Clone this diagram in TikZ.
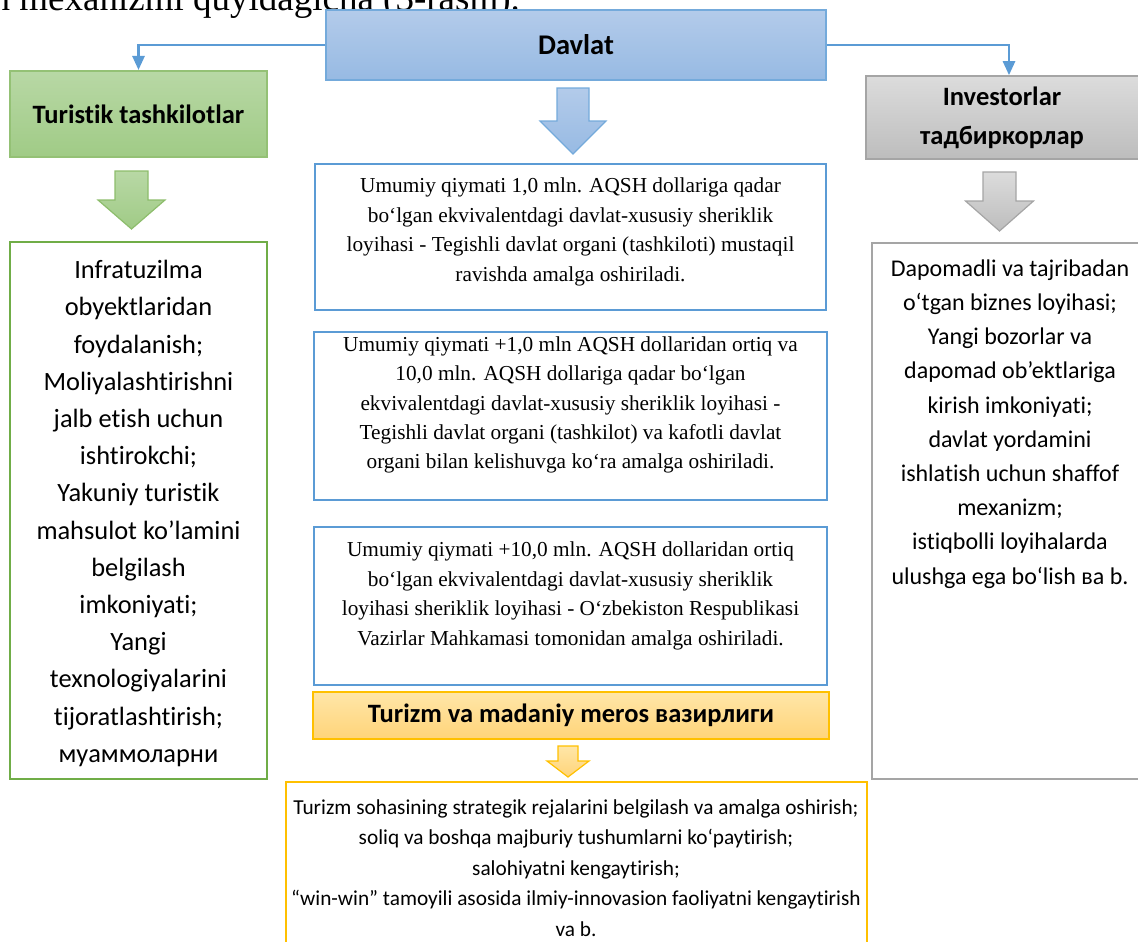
\documentclass[tikz,border=0pt]{standalone}
\usepackage{fontspec}
\setmainfont{Liberation Serif}
\newfontfamily\calibri{Carlito}[Renderer=OpenType,
  Ligatures={NoCommon,NoRequired,NoContextual,NoRare}, RawFeature={-ccmp}]
\usetikzlibrary{positioning,arrows.meta,calc}

\definecolor{blueline}{HTML}{5B9BD5}
\definecolor{bluetop}{HTML}{B3CBEA}
\definecolor{bluebot}{HTML}{97BAE3}
\definecolor{greenline}{HTML}{70AD47}
\definecolor{greentop}{HTML}{B8D8A5}
\definecolor{greenbot}{HTML}{A0CB86}
\definecolor{grayline}{HTML}{A5A5A5}
\definecolor{graytop}{HTML}{DCDCDC}
\definecolor{graybot}{HTML}{BDBDBD}
\definecolor{goldline}{HTML}{FFC000}
\definecolor{goldtop}{HTML}{FFE6A8}
\definecolor{goldbot}{HTML}{FFD479}

\tikzset{
  titlebox/.style={draw, line width=1.6pt, inner sep=0pt, align=center,
    font=\calibri\bfseries\fontsize{26.5}{39}\selectfont},
  framebox/.style={draw, line width=2.6pt, inner sep=0pt},
  listtext/.style={inner sep=0pt, align=center},
  conn/.style={draw=blueline, line width=2.6pt, -{Triangle[width=12pt,length=14pt]}},
}

% block arrow: style, x, top, head start, tip, shaft half, head half
\newcommand{\blockdown}[7]{%
  \path[#1] ({#2-#6},#3) -- ({#2+#6},#3) -- ({#2+#6},#4) -- ({#2+#7},#4)
    -- (#2,#5) -- ({#2-#7},#4) -- ({#2-#6},#4) -- cycle;}

\begin{document}
\begin{tikzpicture}[x=1pt,y=-1pt]
\useasboundingbox (0,0) rectangle (1138,942);
\clip (0,0) rectangle (1138,942);

% cut line of the page text above the figure
\node[inner sep=0pt, anchor=base east, font=\fontsize{37}{40}\selectfont] (pagetext) at (520,11) {ishlash mexanizmi quyidagicha (3-rasm).};

% top row
\node[titlebox, draw=blueline!85, top color=bluetop, bottom color=bluebot,
  font=\calibri\bfseries\fontsize{28.5}{39}\selectfont,
  minimum width=500, minimum height=70] (davlat) at (576,45) {Davlat};
\node[titlebox, draw=greenline!75, top color=greentop, bottom color=greenbot,
  line width=2pt, minimum width=257, minimum height=86] (turistik) at (138.5,114) {Turistik tashkilotlar};
\node[titlebox, draw=grayline, top color=graytop, bottom color=graybot,
  minimum width=286, minimum height=83] (investor) at (1009,117.5) {\hspace*{-14pt}Investorlar\\\hspace*{-14pt}тадбиркорлар};

\draw[conn] (davlat.west) -| (turistik.north);
\draw[conn] (davlat.east) -| (investor.north);

% block arrows
\blockdown{draw=greenline!80, line width=1.2pt, top color=greentop, bottom color=greenbot}{131.5}{171}{200}{229}{16.5}{33.5}
\blockdown{draw=blueline!85, line width=1.2pt, top color=bluetop, bottom color=bluebot}{573}{88}{121}{154}{16}{33}
\blockdown{draw=grayline, line width=1.2pt, top color=graytop, bottom color=graybot}{999.5}{172}{201}{231}{16.5}{34}
\blockdown{draw=goldline, line width=1.2pt, top color=goldtop, bottom color=goldbot}{568}{746}{761}{777}{10}{21}

% left column
\node[framebox, draw=greenline, minimum width=257, minimum height=537] (leftlist) at (138.5,510.5) {};
\node[listtext, font=\calibri\fontsize{26.4}{37.2}\selectfont] (leftlisttxt) at (138.5,513.5)
  {Infratuzilma\\obyektlaridan\\foydalanish;\\Moliyalashtirishni\\jalb etish uchun\\ishtirokchi;\\Yakuniy turistik\\mahsulot ko’lamini\\belgilash\\imkoniyati;\\Yangi\\texnologiyalarini\\tijoratlashtirish;\\муаммоларни};

% right column
\node[framebox, draw=grayline, minimum width=276, minimum height=536] (rightlist) at (1010,511) {};
\node[listtext, font=\calibri\fontsize{24}{34.2}\selectfont] (rightlisttxt) at (1010,424)
  {Dapomadli va tajribadan\\o‘tgan biznes loyihasi;\\Yangi bozorlar va\\dapomad ob’ektlariga\\kirish imkoniyati;\\davlat yordamini\\ishlatish uchun shaffof\\mexanizm;\\istiqbolli loyihalarda\\ulushga ega bo‘lish ва b.};

% middle column
\node[framebox, draw=blueline, minimum width=511, minimum height=146] (stage1) at (570.5,237) {};
\node[listtext, font=\fontsize{21.3}{29.4}\selectfont] (stage1txt) at (570.5,232)
  {Umumiy qiymati 1,0 mln. AQSH dollariga qadar\\bo‘lgan ekvivalentdagi davlat-xususiy sheriklik\\loyihasi - Tegishli davlat organi (tashkiloti) mustaqil\\ravishda amalga oshiriladi.};

\node[framebox, draw=blueline, minimum width=513, minimum height=168] (stage2) at (570.5,416) {};
\node[listtext, font=\fontsize{21.3}{29.4}\selectfont] (stage2txt) at (570.5,405)
  {Umumiy qiymati +1,0 mln AQSH dollaridan ortiq va\\10,0 mln. AQSH dollariga qadar bo‘lgan\\ekvivalentdagi davlat-xususiy sheriklik loyihasi -\\Tegishli davlat organi (tashkilot) va kafotli davlat\\organi bilan kelishuvga ko‘ra amalga oshiriladi.};

\node[framebox, draw=blueline, minimum width=513, minimum height=158] (stage3) at (570.5,606) {};
\node[listtext, font=\fontsize{21.3}{29.4}\selectfont] (stage3txt) at (570.5,596)
  {Umumiy qiymati +10,0 mln. AQSH dollaridan ortiq\\bo‘lgan ekvivalentdagi davlat-xususiy sheriklik\\loyihasi sheriklik loyihasi - O‘zbekiston Respublikasi\\Vazirlar Mahkamasi tomonidan amalga oshiriladi.};

\node[titlebox, draw=goldline, top color=goldtop, bottom color=goldbot,
  minimum width=516, minimum height=47] (vazirlik) at (571,715.5) {Turizm va madaniy meros вазирлиги};

% bottom box
\node[framebox, draw=goldline, line width=2.2pt, minimum width=581, minimum height=178] (vazifa) at (576.5,871) {};
\node[listtext, font=\calibri\fontsize{21.3}{30.5}\selectfont] (vazifatxt) at (576,868)
  {Turizm sohasining strategik rejalarini belgilash va amalga oshirish;\\soliq va boshqa majburiy tushumlarni ko‘paytirish;\\salohiyatni kengaytirish;\\“win-win” tamoyili asosida ilmiy-innovasion faoliyatni kengaytirish\\va b.};
\end{tikzpicture}
\end{document}
